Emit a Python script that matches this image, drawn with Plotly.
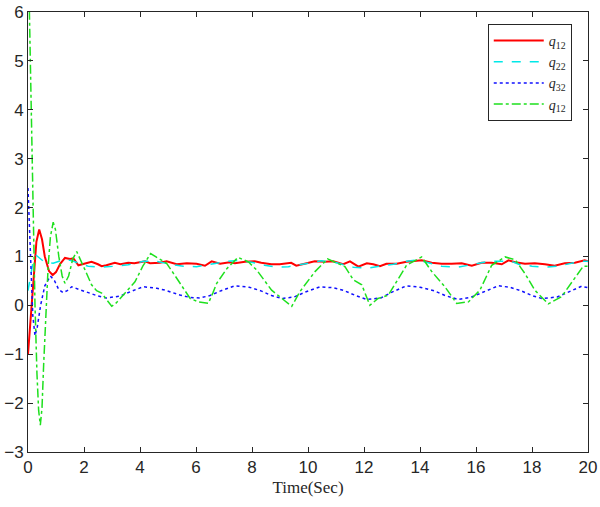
import plotly.graph_objects as go

# values
t_red = [0, 0.1, 0.2, 0.3, 0.4, 0.5, 0.6, 0.75, 0.88, 1.0, 1.15, 1.32, 1.5, 1.62, 1.8, 2.0, 2.27, 2.5, 2.63, 2.8,
         3.1, 3.3, 3.58, 3.8, 4.18, 4.36, 4.71, 4.95, 5.31, 5.67, 6.02, 6.32, 6.56, 6.86, 7.2, 7.39, 7.75, 8.1,
         8.33, 8.69, 8.99, 9.4, 9.58, 9.88, 10.24, 10.6, 10.9, 11.26, 11.5, 11.8, 12.1, 12.33, 12.57, 12.8, 13.17,
         13.52, 13.88, 14.06, 14.42, 14.77, 15.13, 15.49, 15.85, 16.2, 16.56, 16.92, 17.16, 17.4, 17.75, 18.1,
         18.46, 18.81, 19.17, 19.53, 19.88, 20]
q_red = [-1.0, -0.2, 0.6, 1.3, 1.55, 1.35, 1.0, 0.7, 0.62, 0.68, 0.85, 0.97, 0.95, 0.96, 0.82, 0.85, 0.89, 0.84, 0.80,
         0.82, 0.87, 0.84, 0.87, 0.86, 0.9, 0.86, 0.87, 0.9, 0.84, 0.86, 0.85, 0.81, 0.9, 0.85, 0.88, 0.86, 0.89, 0.9,
         0.87, 0.84, 0.84, 0.87, 0.81, 0.85, 0.9, 0.89, 0.9, 0.84, 0.9, 0.79, 0.86, 0.84, 0.8, 0.85, 0.85, 0.89, 0.9,
         0.92, 0.87, 0.85, 0.85, 0.86, 0.81, 0.87, 0.87, 0.84, 0.92, 0.88, 0.85, 0.86, 0.84, 0.81, 0.86, 0.87, 0.92, 0.9]

t_cyan = [0, 0.1, 0.2, 0.3, 0.45, 0.6, 0.73, 0.9, 1.2, 1.5, 1.68, 1.9, 2.15, 2.63, 3.1, 3.58, 4.12, 4.6, 5.07, 5.55,
          6.02, 6.38, 6.74, 7.1, 7.5, 7.99, 8.45, 8.9, 9.3, 9.76, 10.1, 10.48, 11.02, 11.62, 12.1, 12.57, 13.05,
          13.52, 13.88, 14.3, 14.77, 15.37, 15.97, 16.44, 16.92, 17.27, 17.52, 18.0, 18.46, 18.93, 19.4, 19.82, 20]
q_cyan = [0.3, 0.6, 0.95, 1.02, 0.95, 0.88, 0.87, 0.86, 0.92, 0.92, 0.89, 0.84, 0.8, 0.78, 0.8, 0.83, 0.9, 0.9, 0.84,
          0.8, 0.79, 0.83, 0.86, 0.9, 0.92, 0.88, 0.82, 0.78, 0.79, 0.84, 0.88, 0.91, 0.87, 0.78, 0.76, 0.8, 0.84,
          0.9, 0.93, 0.87, 0.8, 0.78, 0.84, 0.9, 0.9, 0.9, 0.84, 0.8, 0.78, 0.8, 0.86, 0.9, 0.9]

t_blue = [0, 0.05, 0.1, 0.17, 0.25, 0.33, 0.45, 0.6, 0.8, 0.95, 1.1, 1.25, 1.4, 1.56, 1.8, 2.21, 2.5, 2.81, 3.29,
          3.7, 4.12, 4.6, 4.9, 5.43, 5.8, 6.14, 6.5, 6.9, 7.39, 7.9, 8.3, 8.7, 9.06, 9.5, 9.9, 10.43, 10.9, 11.3,
          11.7, 12.09, 12.6, 13.0, 13.52, 14.0, 14.5, 14.9, 15.37, 15.8, 16.3, 16.8, 17.2, 17.6, 18.0, 18.35,
          18.9, 19.4, 19.77, 20]
q_blue = [2.4, 1.5, 0.6, -0.2, -0.62, -0.45, 0.0, 0.4, 0.6, 0.5, 0.32, 0.26, 0.3, 0.38, 0.33, 0.24, 0.19, 0.15, 0.19,
          0.29, 0.38, 0.35, 0.31, 0.21, 0.16, 0.15, 0.2, 0.3, 0.4, 0.37, 0.3, 0.2, 0.14, 0.17, 0.27, 0.38, 0.36, 0.3,
          0.2, 0.12, 0.15, 0.27, 0.4, 0.37, 0.3, 0.2, 0.12, 0.16, 0.28, 0.4, 0.37, 0.3, 0.2, 0.14, 0.17, 0.3, 0.39, 0.36]

t_green = [0, 0.05, 0.13, 0.19, 0.25, 0.32, 0.38, 0.44, 0.5, 0.56, 0.63, 0.72, 0.8, 0.9, 0.98, 1.1, 1.22, 1.32,
           1.45, 1.6, 1.74, 1.85, 2.04, 2.27, 2.45, 2.63, 2.8, 2.99, 3.15, 3.35, 3.64, 3.82, 4.1, 4.38, 4.6, 4.95,
           5.2, 5.43, 5.79, 6.1, 6.44, 6.6, 6.74, 7.1, 7.5, 7.87, 8.17, 8.7, 9.06, 9.42, 9.71, 10.25, 10.7, 11.32,
           11.62, 11.92, 12.21, 12.5, 12.87, 13.29, 13.52, 14.06, 14.42, 14.89, 15.31, 15.73, 16.14, 16.56, 17.04,
           17.4, 17.75, 18.1, 18.58, 19.06, 19.6, 19.83, 20]
q_green = [7.5, 6.0, 3.0, 1.5, 0.0, -1.4, -2.15, -2.45, -2.1, -1.2, -0.2, 0.8, 1.4, 1.7, 1.55, 1.0, 0.6, 0.45, 0.6,
           0.95, 1.1, 0.95, 0.72, 0.42, 0.3, 0.25, 0.12, -0.02, 0.05, 0.18, 0.38, 0.48, 0.8, 1.06, 0.98, 0.86, 0.65,
           0.45, 0.14, 0.07, 0.04, 0.25, 0.45, 0.75, 0.98, 0.89, 0.72, 0.31, 0.14, -0.02, 0.28, 0.69, 0.95, 0.79,
           0.52, 0.42, 0.0, 0.14, 0.21, 0.59, 0.82, 0.99, 0.69, 0.38, 0.04, 0.07, 0.31, 0.82, 0.99, 0.93, 0.65, 0.31,
           0.03, 0.18, 0.62, 0.8, 0.8]

x_ticks = [0, 2, 4, 6, 8, 10, 12, 14, 16, 18, 20]
y_ticks = [-3, -2, -1, 0, 1, 2, 3, 4, 5, 6]

fig = go.Figure()
fig.add_trace(go.Scatter(x=t_red, y=q_red, mode="lines", name="<i>q</i><sub>12</sub>",
                         line=dict(color="#ff0000", width=2)))
fig.add_trace(go.Scatter(x=t_cyan, y=q_cyan, mode="lines", name="<i>q</i><sub>22</sub>",
                         line=dict(color="#00e8e8", width=1.5, dash="dash")))
fig.add_trace(go.Scatter(x=t_blue, y=q_blue, mode="lines", name="<i>q</i><sub>32</sub>",
                         line=dict(color="#1010ff", width=1.5, dash="dot")))
fig.add_trace(go.Scatter(x=t_green, y=q_green, mode="lines", name="<i>q</i><sub>12</sub>",
                         line=dict(color="#1ee01e", width=1.5, dash="dashdot")))

axis_style = dict(showgrid=False, zeroline=False, showline=True, linecolor="#262626", linewidth=1,
                  mirror="ticks", ticks="inside", ticklen=5, tickcolor="#262626", automargin=False,
                  tickfont=dict(family="Liberation Sans, Arial", size=17, color="#262626"))

fig.update_xaxes(range=[0, 20], tickvals=x_ticks, title=dict(text="Time(Sec)", standoff=4,
                 font=dict(family="Liberation Serif, Times New Roman", size=17, color="#262626")), **axis_style)
fig.update_yaxes(range=[-3, 6], tickvals=y_ticks, **axis_style)

fig.update_layout(
    width=600, height=507,
    margin=dict(l=28, r=12, t=12, b=55),
    plot_bgcolor="white", paper_bgcolor="white",
    legend=dict(x=0.971, y=0.973, xanchor="right", yanchor="top",
                bgcolor="white", bordercolor="#262626", borderwidth=1,
                font=dict(family="Liberation Serif, Times New Roman", size=14, color="#262626"),
                tracegroupgap=0, itemwidth=50),
    showlegend=True,
)

# page body has a default 8px margin; drop it so the figure sits at the window's corner
fig.write_html("out.html", config={"displayModeBar": False},
               post_script="document.body.style.margin='0px';")
